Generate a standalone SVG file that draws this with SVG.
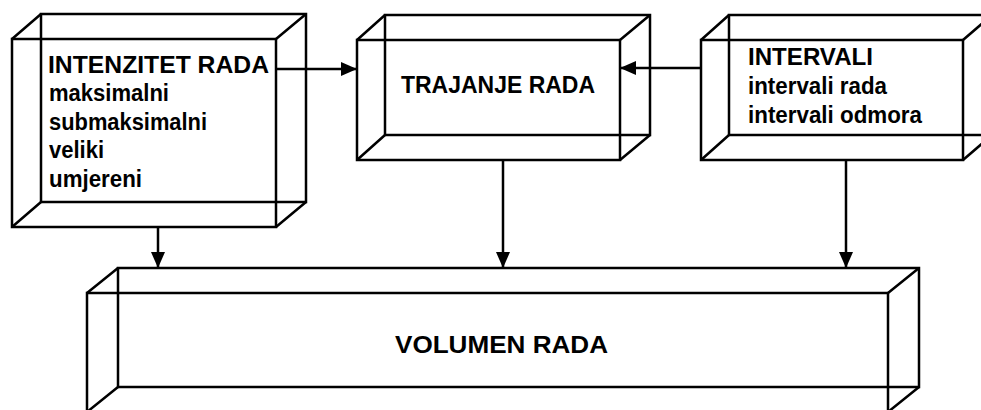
<svg xmlns="http://www.w3.org/2000/svg" width="981" height="410" viewBox="0 0 981 410">
  <style>
    .edge { fill: none; stroke: #000; stroke-width: 2.5; stroke-linejoin: miter; }
    .conn { fill: none; stroke: #000; stroke-width: 2.5; }
    .t { font-family: "Liberation Sans", Arial, sans-serif; font-size: 23px; font-weight: bold; fill: #000; }
  </style>
  <defs>
    <marker id="arrow" viewBox="0 0 16 14" refX="16" refY="7" markerWidth="16" markerHeight="14" markerUnits="userSpaceOnUse" orient="auto">
      <path d="M0,0 L16,7 L0,14 Z" fill="#000"/>
    </marker>
  </defs>
  <rect width="981" height="410" fill="#fff"/>

  <g id="intenzitet">
    <rect class="edge" x="41" y="14" width="265" height="188"/>
    <rect class="edge" x="12" y="39" width="264" height="188"/>
    <path class="edge" d="M12,39 L41,14 M276,39 L306,14 M12,227 L41,202 M276,227 L306,202"/>
    <text class="t" x="48" y="73" textLength="221" lengthAdjust="spacingAndGlyphs">INTENZITET RADA</text>
    <text class="t" x="49" y="101" textLength="120" lengthAdjust="spacingAndGlyphs">maksimalni</text>
    <text class="t" x="49" y="130" textLength="158" lengthAdjust="spacingAndGlyphs">submaksimalni</text>
    <text class="t" x="49" y="158" textLength="55" lengthAdjust="spacingAndGlyphs">veliki</text>
    <text class="t" x="49" y="187" textLength="93" lengthAdjust="spacingAndGlyphs">umjereni</text>
  </g>

  <g id="trajanje">
    <rect class="edge" x="385" y="15" width="265" height="120"/>
    <rect class="edge" x="357" y="40" width="263" height="120"/>
    <path class="edge" d="M357,40 L385,15 M620,40 L650,15 M357,160 L385,135 M620,160 L650,135"/>
    <text class="t" x="401" y="93" textLength="194" lengthAdjust="spacingAndGlyphs">TRAJANJE RADA</text>
  </g>

  <g id="intervali">
    <rect class="edge" x="729" y="15" width="263" height="120"/>
    <rect class="edge" x="701" y="40" width="262" height="120"/>
    <path class="edge" d="M701,40 L729,15 M963,40 L992,15 M701,160 L729,135 M963,160 L992,135"/>
    <text class="t" x="748" y="65" textLength="125" lengthAdjust="spacingAndGlyphs">INTERVALI</text>
    <text class="t" x="748" y="94" textLength="139" lengthAdjust="spacingAndGlyphs">intervali rada</text>
    <text class="t" x="748" y="123" textLength="174" lengthAdjust="spacingAndGlyphs">intervali odmora</text>
  </g>

  <g id="volumen">
    <rect class="edge" x="118" y="268" width="801" height="119"/>
    <rect class="edge" x="87" y="293" width="801" height="119"/>
    <path class="edge" d="M87,293 L118,268 M888,293 L919,268 M87,412 L118,387 M888,412 L919,387"/>
    <text class="t" x="395" y="353" textLength="213" lengthAdjust="spacingAndGlyphs">VOLUMEN RADA</text>
  </g>

  <g id="connectors">
    <line class="conn" x1="276" y1="69" x2="357" y2="69" marker-end="url(#arrow)"/>
    <line class="conn" x1="701" y1="68" x2="620" y2="68" marker-end="url(#arrow)"/>
    <line class="conn" x1="158" y1="227" x2="158" y2="268" marker-end="url(#arrow)"/>
    <line class="conn" x1="503" y1="160" x2="503" y2="268" marker-end="url(#arrow)"/>
    <line class="conn" x1="846" y1="160" x2="846" y2="268" marker-end="url(#arrow)"/>
  </g>
</svg>
